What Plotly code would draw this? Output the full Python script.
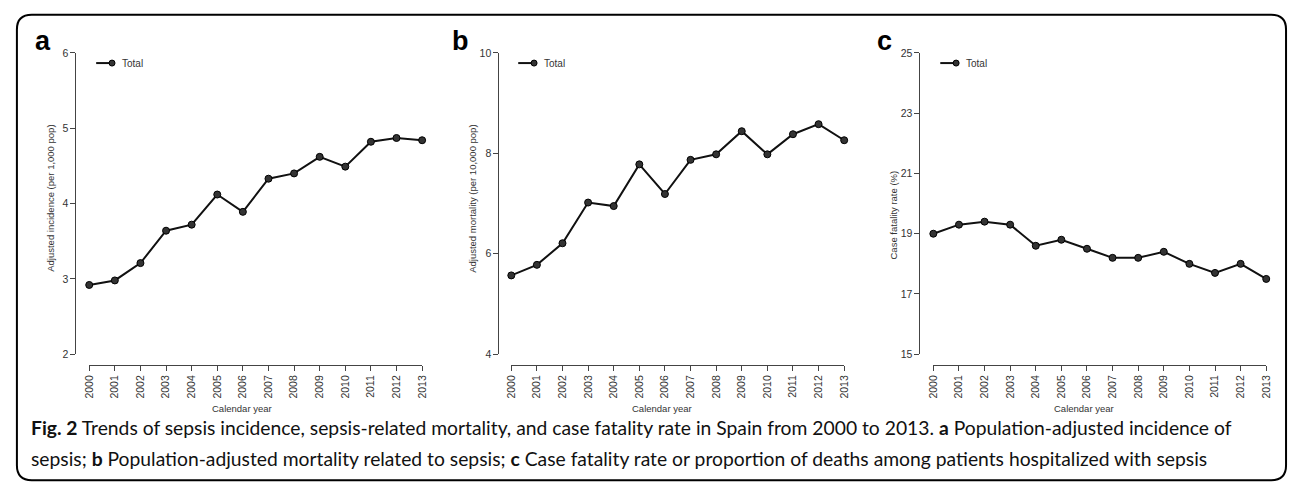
import plotly.graph_objects as go

# ---------------- data ----------------
years = [2000, 2001, 2002, 2003, 2004, 2005, 2006, 2007, 2008, 2009, 2010, 2011, 2012, 2013]
incidence = [2.92, 2.98, 3.21, 3.64, 3.72, 4.12, 3.89, 4.33, 4.40, 4.62, 4.49, 4.82, 4.87, 4.84]
mortality = [5.57, 5.78, 6.21, 7.02, 6.95, 7.78, 7.19, 7.87, 7.98, 8.44, 7.98, 8.38, 8.58, 8.26]
fatality = [19.0, 19.3, 19.4, 19.3, 18.6, 18.8, 18.5, 18.2, 18.2, 18.4, 18.0, 17.7, 18.0, 17.5]

panel_letters = ["a", "b", "c"]
y_titles = ["Adjusted incidence (per 1,000 pop)", "Adjusted mortality (per 10,000 pop)", "Case fatality rate (%)"]
y_ranges = [[2, 6], [4, 10], [15, 25]]
y_dticks = [1, 2, 2]
x_title = "Calendar year"
legend_label = "Total"
caption_1 = ("<b>Fig. 2</b> Trends of sepsis incidence, sepsis-related mortality, and case fatality rate in Spain "
             "from 2000 to 2013. <b>a</b> Population-adjusted incidence of")
caption_2 = ("sepsis; <b>b</b> Population-adjusted mortality related to sepsis; <b>c</b> Case fatality rate or "
             "proportion of deaths among patients hospitalized with sepsis")

# ---------------- layout geometry (pixels) ----------------
W, H = 1295, 492


def fx(x):
    return x / W


def fy(y):
    return 1 - y / H


x_first = [83, 509, 935]      # pixel of 2000 tick
x_last = [419, 845, 1271]     # pixel of 2013 tick
y_axis_x = [69, 496, 921]     # pixel x of y-axis line
y_top, y_bot = 48, 357        # pixel of top/bottom y tick
x_axis_y = 368                # pixel y of x-axis line
letter_x = [36, 458, 886]
ytitle_x = [44, 470, 895]
ytitle_y = [197, 198, 214]
xtitle_cx = [237, 661, 1087]
leg_x0 = [90, 516, 942]

font_main = "Liberation Sans, Arial, sans-serif"
tick_col = "#333333"
axis_col = "#444444"

fig = go.Figure()
series = [incidence, mortality, fatality]
annotations = []
shapes = []

for i in range(3):
    sfx = "" if i == 0 else str(i + 1)
    xa = "x" + sfx
    ya = "y" + sfx
    fig.add_trace(go.Scatter(
        x=years, y=series[i], xaxis=xa, yaxis=ya, mode="lines+markers",
        line=dict(color="#111111", width=2),
        marker=dict(size=7, color="#333333", line=dict(color="#000000", width=1)),
        cliponaxis=False, showlegend=False, hoverinfo="x+y",
    ))
    fig.layout["xaxis" + sfx] = dict(
        domain=[fx(x_first[i]), fx(x_last[i])], range=[2000, 2013],
        anchor="free", position=fy(x_axis_y),
        tickmode="array", tickvals=years, ticktext=[str(y) for y in years],
        tickangle=-90, ticks="outside", ticklen=5, tickwidth=1, tickcolor=axis_col,
        showline=True, linecolor=axis_col, linewidth=1,
        showgrid=False, zeroline=False,
        tickfont=dict(family=font_main, size=10.5, color=tick_col),
        fixedrange=True,
    )
    fig.layout["yaxis" + sfx] = dict(
        domain=[fy(y_bot), fy(y_top)], range=y_ranges[i],
        anchor="free", position=fx(y_axis_x[i]),
        tick0=y_ranges[i][0], dtick=y_dticks[i],
        ticks="outside", ticklen=5, tickwidth=1, tickcolor=axis_col,
        showline=True, linecolor=axis_col, linewidth=1,
        showgrid=False, zeroline=False,
        tickfont=dict(family=font_main, size=10.5, color=tick_col),
        fixedrange=True,
    )
    # panel letter
    annotations.append(dict(x=fx(letter_x[i]), y=fy(36), xref="paper", yref="paper",
                            text="<b>%s</b>" % panel_letters[i], showarrow=False,
                            xanchor="center", yanchor="middle",
                            font=dict(family=font_main, size=27, color="#000000")))
    # y title
    annotations.append(dict(x=fx(ytitle_x[i]), y=fy(ytitle_y[i]), xref="paper", yref="paper",
                            text=y_titles[i], showarrow=False, textangle=-90,
                            xanchor="center", yanchor="middle",
                            font=dict(family=font_main, size=9.5, color=tick_col)))
    # x title
    annotations.append(dict(x=fx(xtitle_cx[i]), y=fy(413), xref="paper", yref="paper",
                            text=x_title, showarrow=False,
                            xanchor="center", yanchor="middle",
                            font=dict(family=font_main, size=9.5, color=tick_col)))
    # legend glyph
    shapes.append(dict(type="line", xref="paper", yref="paper",
                       x0=fx(leg_x0[i]), x1=fx(leg_x0[i] + 16), y0=fy(58.5), y1=fy(58.5),
                       line=dict(color="#111111", width=2)))
    shapes.append(dict(type="circle", xref="paper", yref="paper",
                       xsizemode="pixel", ysizemode="pixel",
                       xanchor=fx(leg_x0[i] + 16), yanchor=fy(58.5),
                       x0=-3, x1=3, y0=-3, y1=3,
                       fillcolor="#333333", line=dict(color="#000000", width=1)))
    annotations.append(dict(x=fx(leg_x0[i] + 24), y=fy(58.5), xref="paper", yref="paper",
                            text=legend_label, showarrow=False,
                            xanchor="left", yanchor="middle",
                            font=dict(family=font_main, size=10, color=tick_col)))

# caption
cap_font = dict(family="Lato, Liberation Sans Narrow, sans-serif", size=19.3, color="#111111")
annotations.append(dict(x=fx(22), y=fy(432), xref="paper", yref="paper", text=caption_1,
                        showarrow=False, xanchor="left", yanchor="middle", font=cap_font))
annotations.append(dict(x=fx(22), y=fy(464), xref="paper", yref="paper", text=caption_2,
                        showarrow=False, xanchor="left", yanchor="middle", font=cap_font))

# rounded frame
L, T, R, B, r = 10, 9, 1291, 486, 15
path = ("M {a},{b} L {c},{b} Q {R},{b} {R},{d} L {R},{e} Q {R},{B} {c},{B} "
        "L {a},{B} Q {L},{B} {L},{e} L {L},{d} Q {L},{b} {a},{b} Z")
pts = dict(a=fx(L + r), b=fy(T), c=fx(R - r), d=fy(T + r), e=fy(B - r),
           R=fx(R), B=fy(B), L=fx(L))
shapes.append(dict(type="path", xref="paper", yref="paper",
                   path=path.format(**pts), line=dict(color="#000000", width=2),
                   fillcolor="rgba(0,0,0,0)", layer="below"))

fig.update_layout(
    width=W, height=H, autosize=False,
    margin=dict(l=0, r=0, t=0, b=0, pad=0),
    paper_bgcolor="white", plot_bgcolor="white",
    annotations=annotations, shapes=shapes,
    showlegend=False,
)

fig.write_html("out.html", config={"displayModeBar": False},
               post_script="document.body.style.margin='0';document.body.style.overflow='hidden';")
